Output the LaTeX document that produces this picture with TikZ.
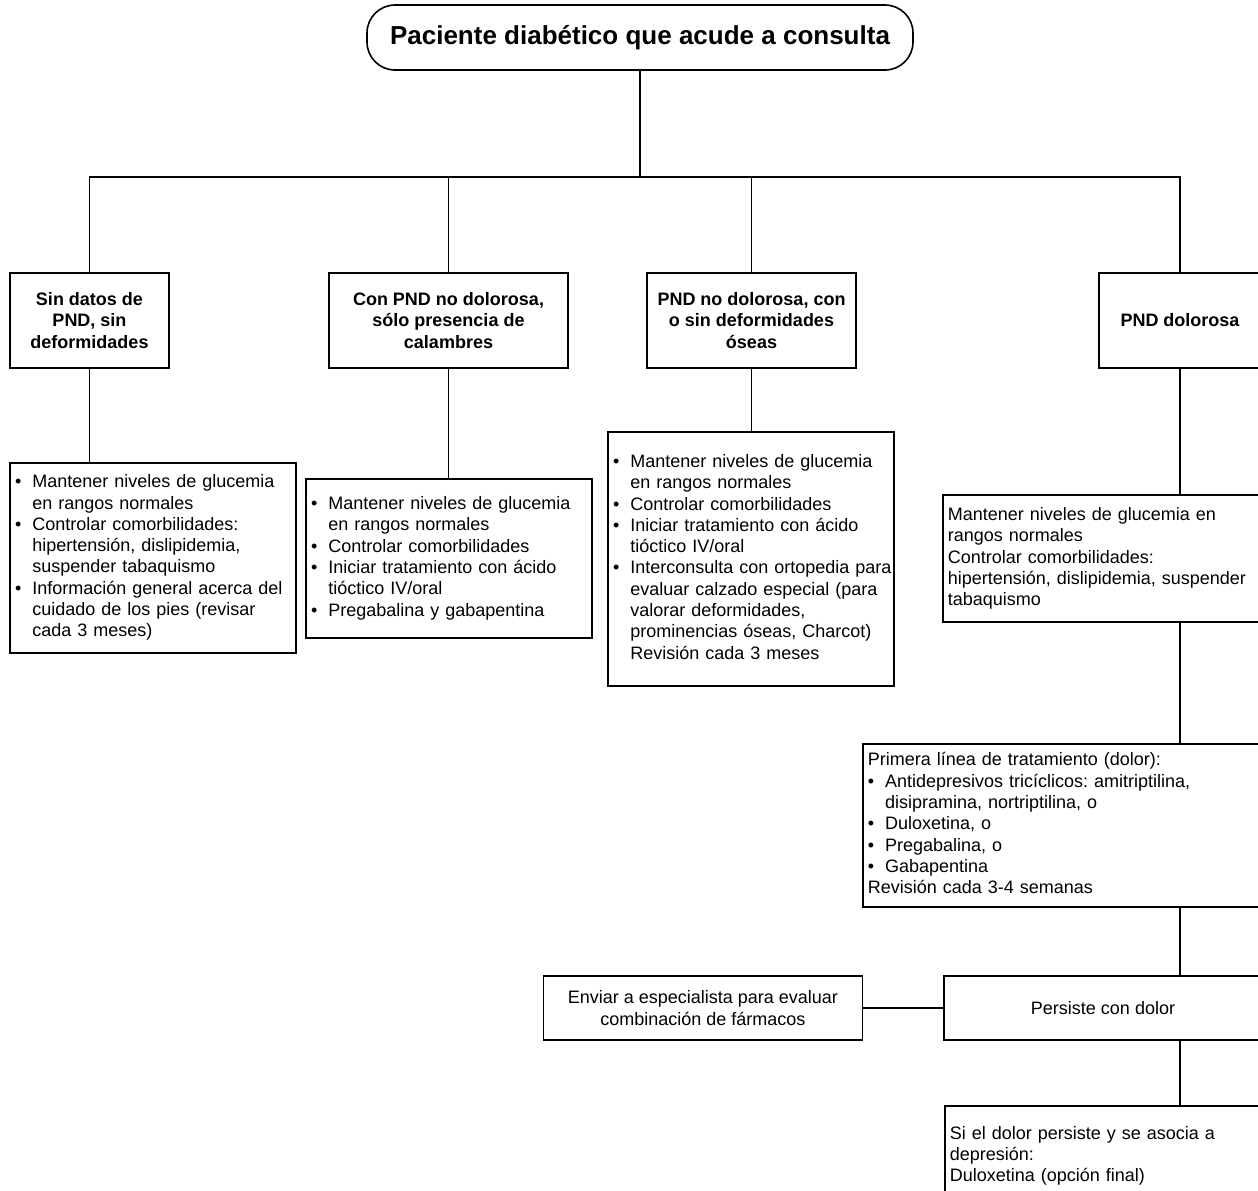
\documentclass[tikz,border=0pt]{standalone}
\usepackage{fontspec}
\setmainfont{Liberation Sans}
\usetikzlibrary{positioning}
\frenchspacing
\newenvironment{blist}{\begin{tabular}{@{}l@{\hspace{5.5pt}}l@{}}}{\end{tabular}}
\newcommand{\bi}{\textbullet}

\begin{document}
\begin{tikzpicture}[x=0.5pt,y=-0.5pt,font=\fontsize{9}{10.65}\selectfont]
  \tikzset{head/.style={draw,line width=0.8pt,inner xsep=1pt,minimum height=47.5pt,align=center,font=\bfseries\fontsize{9}{10.8}\selectfont},
    note/.style={draw,line width=0.8pt,inner xsep=2.5pt,align=left},
    link/.style={line width=0.8pt}}
  \useasboundingbox (0,0) rectangle (1258,1190);
  \clip (0,0) rectangle (1258,1190);
  \node[draw,line width=0.8pt,rounded corners=14pt,minimum width=273pt,minimum height=32.5pt,font=\bfseries\fontsize{13}{15}\selectfont] (pac) at (640,37.5) {Paciente diabético que acude a consulta};
  \coordinate (bus) at (640,177);
  % first row
  \node[head,minimum width=79.5pt] (sin) at (89.5,320.5) {Sin datos de\\PND, sin\\deformidades};
  \node[head,minimum width=119.5pt] (calam) at (448.5,320.5) {Con PND no dolorosa,\\sólo presencia de\\calambres};
  \node[head,minimum width=104.5pt] (oseas) at (751.5,320.5) {PND no dolorosa, con\\o sin deformidades\\óseas};
  \node[head,minimum width=81pt] (dol) at (1180,320.5) {PND dolorosa};
  % second row
  \node[note,text width=138pt,minimum height=95pt] (mant1) at (153,558) {\begin{blist}
    \bi & Mantener niveles de glucemia\\
        & en rangos normales\\
    \bi & Controlar comorbilidades:\\
        & hipertensión, dislipidemia,\\
        & suspender tabaquismo\\
    \bi & Información general acerca del\\
        & cuidado de los pies (revisar\\
        & cada 3 meses)
  \end{blist}};
  \node[note,text width=138pt,minimum height=79.5pt] (mant2) at (449,558.5) {\begin{blist}
    \bi & Mantener niveles de glucemia\\
        & en rangos normales\\
    \bi & Controlar comorbilidades\\
    \bi & Iniciar tratamiento con ácido\\
        & tióctico IV/oral\\
    \bi & Pregabalina y gabapentina
  \end{blist}};
  \node[note,text width=138pt,minimum height=127pt] (mant3) at (751,559) {\begin{blist}
    \bi & Mantener niveles de glucemia\\
        & en rangos normales\\
    \bi & Controlar comorbilidades\\
    \bi & Iniciar tratamiento con ácido\\
        & tióctico IV/oral\\
    \bi & Interconsulta con ortopedia para\\
        & evaluar calzado especial (para\\
        & valorar deformidades,\\
        & prominencias óseas, Charcot)\\
        & Revisión cada 3 meses
  \end{blist}};
  \node[note,text width=195pt,minimum height=63.5pt,anchor=west] (mant4) at (942,558.5) {Mantener niveles de glucemia en\\rangos normales\\Controlar comorbilidades:\\hipertensión, dislipidemia, suspender\\tabaquismo};
  % pain branch
  \node[note,text width=245pt,minimum height=79.5pt,anchor=west] (prim) at (862,825.5) {\begin{blist}
    \multicolumn{2}{@{}l@{}}{Primera línea de tratamiento (dolor):}\\
    \bi & Antidepresivos tricíclicos: amitriptilina,\\
        & disipramina, nortriptilina, o\\
    \bi & Duloxetina, o\\
    \bi & Pregabalina, o\\
    \bi & Gabapentina\\
    \multicolumn{2}{@{}l@{}}{Revisión cada 3-4 semanas}
  \end{blist}};
  \node[note,align=center,minimum width=159pt,minimum height=32pt] (pers) at (1103,1008) {Persiste con dolor};
  \node[note,align=center,minimum width=159.5pt,minimum height=32pt,left=40pt of pers] (env) {Enviar a especialista para evaluar\\combinación de fármacos};
  \node[note,text width=195pt,minimum height=50pt,anchor=north west] (fin) at (944,1105) {Si el dolor persiste y se asocia a\\depresión:\\Duloxetina (opción final)};
  % connectors
  \draw[link] (pac) -- (bus);
  \foreach \n in {sin,calam,oseas,dol} {
    \draw[link] (bus) -| (\n.north);
  }
  \foreach \a/\b in {sin/mant1,calam/mant2,oseas/mant3,dol/mant4} {
    \draw[link] (\a.south) -- (\a.south |- \b.north);
  }
  \draw[link] (mant4.south -| dol) -- (prim.north -| dol);
  \draw[link] (prim.south -| dol) -- (pers.north -| dol);
  \draw[link] (pers) -- (env);
  \draw[link] (pers.south -| dol) -- (fin.north -| dol);
\end{tikzpicture}
\end{document}
